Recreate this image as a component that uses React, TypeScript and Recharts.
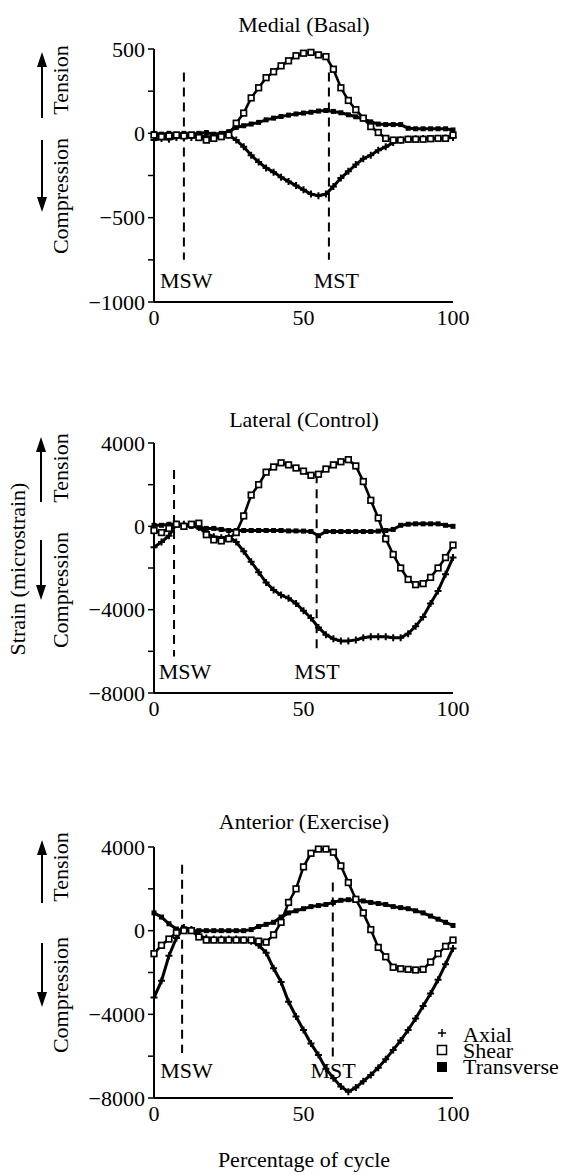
import React from 'react';
import { LineChart, Line, XAxis, YAxis, ReferenceLine, ReferenceDot } from 'recharts';

const cycle = [0, 2.5, 5, 7.5, 10, 12.5, 15, 17.5, 20, 22.5, 25, 27.5, 30, 32.5, 35, 37.5, 40, 42.5, 45, 47.5, 50, 52.5, 55, 57.5, 60, 62.5, 65, 67.5, 70, 72.5, 75, 77.5, 80, 82.5, 85, 87.5, 90, 92.5, 95, 97.5, 100];

const medialShear = [-10, -20, -15, -10, -15, -10, -25, -40, -30, -20, -10, 60, 120, 210, 270, 330, 365, 400, 430, 460, 475, 480, 465, 455, 380, 270, 195, 140, 90, 40, 5, -30, -40, -40, -35, -35, -35, -32, -30, -30, -10];
const medialTransverse = [0, -5, 0, -5, 0, -5, 0, 5, -5, 0, 10, 35, 45, 55, 65, 80, 90, 100, 108, 115, 120, 125, 132, 135, 130, 122, 110, 98, 85, 68, 55, 52, 52, 52, 30, 27, 27, 27, 27, 27, 20];
const medialAxial = [-40, -30, -35, -25, -20, -25, -15, -20, -20, -15, -10, -40, -80, -130, -170, -205, -230, -260, -285, -310, -335, -360, -370, -360, -315, -265, -225, -185, -150, -130, -100, -80, -55, -40, -35, -32, -30, -30, -30, -28, -25];

const lateralShear = [-200, -300, -100, 100, 0, 100, 150, -400, -650, -700, -600, -300, 500, 1500, 2000, 2600, 2850, 3050, 2950, 2800, 2650, 2450, 2500, 2750, 2950, 3100, 3200, 2900, 2150, 1250, 400, -600, -1350, -2000, -2550, -2800, -2750, -2450, -2000, -1500, -900];
const lateralAxial = [-1000, -750, -450, 100, 100, 50, -50, -350, -500, -550, -500, -750, -1200, -1700, -2200, -2700, -3050, -3300, -3450, -3700, -4050, -4400, -4850, -5200, -5400, -5500, -5500, -5450, -5350, -5300, -5300, -5300, -5350, -5350, -5150, -4800, -4350, -3700, -3100, -2300, -1500];
const lateralTransverse = [50, 50, 100, 100, 50, 0, -50, -100, -100, -150, -200, -200, -200, -200, -200, -200, -200, -200, -220, -220, -230, -250, -450, -250, -250, -250, -250, -250, -250, -250, -230, -200, -150, 50, 100, 120, 120, 120, 120, 50, 0];

const anteriorShear = [-1100, -700, -400, -100, 0, 0, -300, -450, -450, -450, -450, -450, -450, -450, -500, -550, -200, 400, 1350, 2000, 3050, 3700, 3900, 3900, 3750, 3100, 2300, 1500, 850, 50, -800, -1250, -1750, -1820, -1850, -1880, -1850, -1500, -1100, -750, -450];
const anteriorAxial = [-3200, -2400, -1200, -350, 150, 50, -250, -350, -400, -400, -400, -400, -450, -500, -700, -1050, -1800, -2450, -3400, -4100, -4750, -5400, -5950, -6600, -7050, -7450, -7700, -7500, -7200, -6900, -6550, -6150, -5700, -5250, -4750, -4200, -3600, -3000, -2350, -1600, -850];
const anteriorTransverse = [850, 650, 330, 80, 0, 0, 0, 0, 0, 0, 0, 0, 0, 50, 200, 300, 400, 650, 850, 950, 1050, 1150, 1200, 1250, 1350, 1450, 1480, 1450, 1420, 1350, 1300, 1250, 1150, 1100, 1050, 950, 850, 700, 550, 400, 250];

const smallTicks = [-1000, -750, -500, -250, 0, 250, 500];
const smallTickLabels: Record<string, string> = { '500': '500', '0': '0', '-500': '\u2212500', '-1000': '\u22121000' };
const largeTicks = [-8000, -6000, -4000, -2000, 0, 2000, 4000];
const largeTickLabels: Record<string, string> = { '4000': '4000', '0': '0', '-4000': '\u22124000', '-8000': '\u22128000' };
const xTicks = [0, 50, 100];

const titles = ['Medial (Basal)', 'Lateral (Control)', 'Anterior (Exercise)'];
const legendNames = ['Axial', 'Shear', 'Transverse'];

const FONT = 'Liberation Serif, Times New Roman, serif';
const TOP_PAD = 20;

const PlusDot = (p: any) => {
  if (p.cx == null || p.cy == null) return <g key={`a${p.index}`} />;
  return <path key={`a${p.index}`} d={`M${p.cx - 3.5},${p.cy}h7M${p.cx},${p.cy - 3.5}v7`} stroke="#000" strokeWidth={2} />;
};
const OpenSquare = (p: any) => {
  if (p.cx == null || p.cy == null) return <g key={`s${p.index}`} />;
  return <rect key={`s${p.index}`} x={p.cx - 2.8} y={p.cy - 2.8} width={5.6} height={5.6} fill="#fff" stroke="#000" strokeWidth={1.7} />;
};
const FilledSquare = (p: any) => {
  if (p.cx == null || p.cy == null) return <g key={`t${p.index}`} />;
  return <rect key={`t${p.index}`} x={p.cx - 2.5} y={p.cy - 2.5} width={5} height={5} fill="#000" />;
};

type PanelProps = {
  plotTop: number;
  plotH: number;
  domain: [number, number];
  ticks: number[];
  tickLabels: Record<string, string>;
  axial: number[];
  shear: number[];
  transverse: number[];
  msw: [number, number, number];
  mst: [number, number, number];
  labelY: number;
  mswLabelX: number;
  mstLabelX: number;
};

const labelStyle = { fill: '#000', fontSize: 22, fontFamily: FONT };

function Panel(props: PanelProps) {
  const data = cycle.map((x, i) => ({ x, axial: props.axial[i], shear: props.shear[i], transverse: props.transverse[i] }));
  const height = props.plotH + TOP_PAD + 45;
  return (
    <div style={{ position: 'absolute', left: 0, top: props.plotTop - TOP_PAD }}>
      <LineChart width={568} height={height} data={data} margin={{ top: TOP_PAD, right: 115, bottom: 0, left: 0 }}>
        <XAxis
          type="number"
          dataKey="x"
          domain={[0, 100]}
          ticks={xTicks}
          tickLine={false}
          tickSize={0}
          tickMargin={7}
          height={45}
          axisLine={{ stroke: '#000', strokeWidth: 2 }}
          tick={{ fill: '#000', fontSize: 22, fontFamily: FONT }}
        />
        <YAxis
          type="number"
          domain={props.domain}
          ticks={props.ticks}
          width={154}
          tickSize={6}
          tickMargin={3}
          interval={0}
          tickFormatter={(v: number) => props.tickLabels[String(v)] ?? ''}
          axisLine={{ stroke: '#000', strokeWidth: 2 }}
          tickLine={{ stroke: '#000', strokeWidth: 1.5 }}
          tick={{ fill: '#000', fontSize: 22, fontFamily: FONT }}
        />
        <ReferenceLine segment={[{ x: props.msw[0], y: props.msw[1] }, { x: props.msw[0], y: props.msw[2] }]} stroke="#000" strokeWidth={2} strokeDasharray="9 6" />
        <ReferenceLine segment={[{ x: props.mst[0], y: props.mst[1] }, { x: props.mst[0], y: props.mst[2] }]} stroke="#000" strokeWidth={2} strokeDasharray="9 6" />
        <Line type="linear" dataKey="axial" stroke="#000" strokeWidth={3} dot={PlusDot} activeDot={false} isAnimationActive={false} />
        <Line type="linear" dataKey="transverse" stroke="#000" strokeWidth={3} dot={FilledSquare} activeDot={false} isAnimationActive={false} />
        <Line type="linear" dataKey="shear" stroke="#000" strokeWidth={2.6} dot={OpenSquare} activeDot={false} isAnimationActive={false} />
        <ReferenceDot x={props.mswLabelX} y={props.labelY} r={1} fill="none" stroke="none" label={{ value: 'MSW', position: 'center', ...labelStyle }} />
        <ReferenceDot x={props.mstLabelX} y={props.labelY} r={1} fill="none" stroke="none" label={{ value: 'MST', position: 'center', ...labelStyle }} />
      </LineChart>
    </div>
  );
}

function UpArrow({ x, tip, tail }: { x: number; tip: number; tail: number }) {
  return (
    <g>
      <line x1={x} y1={tail} x2={x} y2={tip + 10} stroke="#000" strokeWidth={2} />
      <polygon points={`${x},${tip} ${x - 5},${tip + 15} ${x + 5},${tip + 15}`} fill="#000" />
    </g>
  );
}
function DownArrow({ x, tip, tail }: { x: number; tip: number; tail: number }) {
  return (
    <g>
      <line x1={x} y1={tail} x2={x} y2={tip - 10} stroke="#000" strokeWidth={2} />
      <polygon points={`${x},${tip} ${x - 5},${tip - 15} ${x + 5},${tip - 15}`} fill="#000" />
    </g>
  );
}

function VText({ x, y, children }: { x: number; y: number; children: string }) {
  return (
    <text transform={`translate(${x},${y}) rotate(-90)`} textAnchor="middle" fontFamily={FONT} fontSize={22} fill="#000">
      {children}
    </text>
  );
}

export default function App() {
  return (
    <div style={{ position: 'absolute', left: 0, top: 0, width: 568, height: 1175, background: '#fff', overflow: 'hidden' }}>
      <Panel plotTop={49} plotH={253} domain={[-1000, 500]} ticks={smallTicks} tickLabels={smallTickLabels}
        axial={medialAxial} shear={medialShear} transverse={medialTransverse}
        msw={[10, 360, -750]} mst={[58.5, 360, -750]} labelY={-870} mswLabelX={10.8} mstLabelX={61} />
      <Panel plotTop={443} plotH={250} domain={[-8000, 4000]} ticks={largeTicks} tickLabels={largeTickLabels}
        axial={lateralAxial} shear={lateralShear} transverse={lateralTransverse}
        msw={[6.7, 2700, -6250]} mst={[54.4, 2500, -6100]} labelY={-6950} mswLabelX={10.4} mstLabelX={54.5} />
      <Panel plotTop={847} plotH={251} domain={[-8000, 4000]} ticks={largeTicks} tickLabels={largeTickLabels}
        axial={anteriorAxial} shear={anteriorShear} transverse={anteriorTransverse}
        msw={[9.4, 3150, -5850]} mst={[59.8, 2300, -6150]} labelY={-6660} mswLabelX={10.9} mstLabelX={59.9} />
      <svg width={568} height={1175} style={{ position: 'absolute', left: 0, top: 0, pointerEvents: 'none' }}>
        <text x={304} y={32} textAnchor="middle" fontFamily={FONT} fontSize={22} fill="#000">{titles[0]}</text>
        <text x={304} y={427} textAnchor="middle" fontFamily={FONT} fontSize={22} fill="#000">{titles[1]}</text>
        <text x={304} y={829} textAnchor="middle" fontFamily={FONT} fontSize={22} fill="#000">{titles[2]}</text>

        <UpArrow x={42} tip={52} tail={118} />
        <DownArrow x={42} tip={212} tail={140} />
        <VText x={68} y={80}>Tension</VText>
        <VText x={68} y={196}>Compression</VText>

        <UpArrow x={41} tip={437} tail={502} />
        <DownArrow x={41} tip={600} tail={540} />
        <VText x={68} y={468}>Tension</VText>
        <VText x={68} y={590}>Compression</VText>
        <VText x={25} y={569}>Strain (microstrain)</VText>

        <UpArrow x={42} tip={840} tail={903} />
        <DownArrow x={42} tip={1007} tail={943} />
        <VText x={68} y={867}>Tension</VText>
        <VText x={68} y={995}>Compression</VText>

        <path d="M438,1033h8M442,1029v8" stroke="#000" strokeWidth={1.5} />
        <rect x={437.5} y={1045.5} width={9} height={9} fill="#fff" stroke="#000" strokeWidth={1.5} />
        <rect x={437} y={1062} width={10} height={10} fill="#000" />
        <text x={463} y={1042} fontFamily={FONT} fontSize={22} fill="#000">{legendNames[0]}</text>
        <text x={463} y={1058} fontFamily={FONT} fontSize={22} fill="#000">{legendNames[1]}</text>
        <text x={463} y={1074} fontFamily={FONT} fontSize={22} fill="#000">{legendNames[2]}</text>

        <text x={304} y={1167} textAnchor="middle" fontFamily={FONT} fontSize={22} fill="#000">Percentage of cycle</text>
      </svg>
    </div>
  );
}
